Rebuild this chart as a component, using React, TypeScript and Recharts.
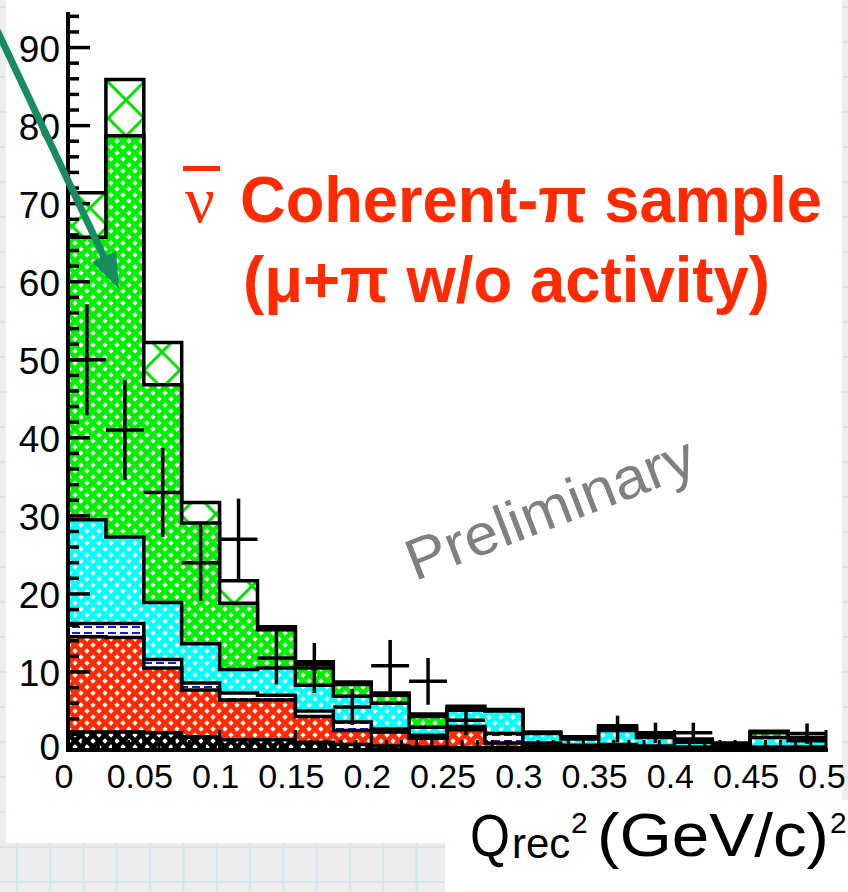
import React from 'react';
import { ComposedChart, Area, Scatter, ErrorBar, XAxis, YAxis } from 'recharts';

// Q^2_rec histogram, 20 bins of 0.025 (GeV/c)^2
const BIN_EDGES = [0, 0.025, 0.05, 0.075, 0.1, 0.125, 0.15, 0.175, 0.2, 0.225, 0.25, 0.275, 0.3, 0.325, 0.35, 0.375, 0.4, 0.425, 0.45, 0.475, 0.5];
const BIN_CENTERS = [0.0125, 0.0375, 0.0625, 0.0875, 0.1125, 0.1375, 0.1625, 0.1875, 0.2125, 0.2375, 0.2625, 0.2875, 0.3125, 0.3375, 0.3625, 0.3875, 0.4125, 0.4375, 0.4625, 0.4875];
const HALF_BIN = 0.0125;

// cumulative (stacked) tops of each MC component, read per bin
const BLACK_TOP = [2.3, 2.3, 2.2, 1.7, 1.3, 1.3, 1.0, 0.7, 0.5, 0.4, 0.3, 0.3, 0.2, 0.2, 0.2, 0.1, 0.1, 0.1, 0.1, 0.1];
const RED_TOP = [14.5, 14.4, 10.5, 7.7, 6.4, 6.4, 4.3, 2.5, 2.3, 1.5, 2.6, 0.9, 0.5, 0.3, 0.4, 0.3, 0.2, 0.1, 0.2, 0.2];
const BLUE_TOP = [16.2, 16.2, 11.6, 8.6, 7.3, 7.0, 5.0, 3.6, 2.7, 1.9, 3.0, 2.1, 0.9, 0.6, 0.7, 0.5, 0.4, 0.2, 0.4, 0.4];
const CYAN_TOP = [29.5, 27.3, 18.9, 13.6, 10.3, 10.5, 8.3, 6.9, 6.0, 2.9, 5.1, 5.0, 2.1, 1.4, 2.5, 1.6, 1.0, 0.6, 1.6, 1.2];
const GREEN_TOP = [65.7, 78.7, 46.8, 29.1, 18.8, 15.4, 11.0, 8.4, 7.0, 4.3, 5.3, 5.1, 2.2, 1.5, 2.9, 1.8, 1.2, 0.7, 2.2, 1.4];
const TOTAL = [71.4, 85.9, 52.2, 31.7, 21.7, 15.8, 11.3, 8.7, 7.3, 4.6, 5.6, 5.2, 2.3, 1.7, 3.1, 1.9, 1.4, 0.9, 2.4, 1.6];

// data points (null = empty bin)
const DATA_Y = [50, 41, 33, 24, 27, 11.8, 10.5, 5.5, 10.8, 8.8, 3.8, null, null, null, 2.7, 2.2, 2.2, null, null, 2.1];
const DATA_ERR = [7.1, 6.4, 5.7, 4.9, 5.2, 3.4, 3.2, 2.3, 3.3, 3.0, 1.9, 0, 0, 0, 1.7, 1.3, 1.3, 0, 0, 1.3];

const Y_TICKS = [0, 2, 4, 6, 8, 10, 12, 14, 16, 18, 20, 22, 24, 26, 28, 30, 32, 34, 36, 38, 40, 42, 44, 46, 48, 50, 52, 54, 56, 58, 60, 62, 64, 66, 68, 70, 72, 74, 76, 78, 80, 82, 84, 86, 88, 90, 92, 94];
const X_TICKS = [0, 0.01, 0.02, 0.03, 0.04, 0.05, 0.06, 0.07, 0.08, 0.09, 0.1, 0.11, 0.12, 0.13, 0.14, 0.15, 0.16, 0.17, 0.18, 0.19, 0.2, 0.21, 0.22, 0.23, 0.24, 0.25, 0.26, 0.27, 0.28, 0.29, 0.3, 0.31, 0.32, 0.33, 0.34, 0.35, 0.36, 0.37, 0.38, 0.39, 0.4, 0.41, 0.42, 0.43, 0.44, 0.45, 0.46, 0.47, 0.48, 0.49, 0.5];

const W = 848;
const H = 892;
const PL = 68;
const PR = 826;
const PT = 14;
const PB = 750;
const RED = '#ff2a00';
const SANS = '"Liberation Sans", Arial, Helvetica, sans-serif';

// drawn largest first so every outline stays on top (like ROOT stacks)
const layers = [
  { key: 'total', pat: 'pCross' },
  { key: 'green', pat: 'pGreen' },
  { key: 'cyan', pat: 'pCyan' },
  { key: 'blue', pat: 'pBlue' },
  { key: 'red', pat: 'pRed' },
  { key: 'black', pat: 'pBlack' },
];

const areaRows = BIN_EDGES.map((x, i) => {
  const b = Math.min(i, TOTAL.length - 1);
  return {
    x,
    total: TOTAL[b],
    green: GREEN_TOP[b],
    cyan: CYAN_TOP[b],
    blue: BLUE_TOP[b],
    red: RED_TOP[b],
    black: BLACK_TOP[b],
  };
});

const pointRows = BIN_CENTERS.map((x, i) =>
  DATA_Y[i] == null ? null : { x, y: DATA_Y[i], ey: DATA_ERR[i], ex: HALF_BIN }
).filter(Boolean);

const YTick = (props: any) => {
  const { y, payload } = props;
  const v = payload.value;
  const major = v % 10 === 0;
  return (
    <g>
      <line x1={PL} x2={PL + (major ? 22 : 11)} y1={y} y2={y} stroke="#000" strokeWidth={3.5} />
      {major && (
        <text x={PL - 8} y={v === 0 ? y - 3 : y + 2} textAnchor="end" dominantBaseline="central" fontSize={37} fontFamily={SANS} fill="#000">
          {v}
        </text>
      )}
    </g>
  );
};

const XTick = (props: any) => {
  const { x, payload } = props;
  const v = payload.value;
  const major = Math.abs(v * 20 - Math.round(v * 20)) < 1e-6;
  return (
    <g>
      <line x1={x} x2={x} y1={PB} y2={PB - (major ? 20 : 10)} stroke="#000" strokeWidth={3} />
      {major && (
        <text x={x - 4} y={788} textAnchor="middle" fontSize={34} fontFamily={SANS} fill="#000">
          {String(v)}
        </text>
      )}
    </g>
  );
};

const dotPath = 'M3 0.3 L5.7 3 L3 5.7 L0.3 3Z M9 6.3 L11.7 9 L9 11.7 L6.3 9Z';

const Patterns = () => (
  <svg width={0} height={0} style={{ position: 'absolute' }}>
    <defs>
      {[
        ['pGreen', '#00f000'],
        ['pCyan', '#00ffff'],
        ['pRed', '#ff2a00'],
      ].map(([id, c]) => (
        <pattern key={id} id={id} width={12} height={12} patternUnits="userSpaceOnUse">
          <rect width={12} height={12} fill={c} />
          <path d={dotPath} fill="#fff" />
        </pattern>
      ))}
      <pattern id="pBlack" width={12} height={12} patternUnits="userSpaceOnUse">
        <rect width={12} height={12} fill="#000" />
        <path d={dotPath} fill="#fff" />
      </pattern>
      <pattern id="pBlue" width={12} height={6} patternUnits="userSpaceOnUse">
        <rect width={12} height={6} fill="#fff" />
        <rect x={0} y={2} width={8} height={2} fill="#1818e0" />
      </pattern>
      <pattern id="pCross" width={36} height={36} y={10} patternUnits="userSpaceOnUse">
        <rect width={36} height={36} fill="#fff" />
        <path d="M0 0 L36 36 M36 0 L0 36" stroke="#00e600" strokeWidth={3} />
      </pattern>
    </defs>
  </svg>
);

export default function App() {
  return (
    <div
      style={{
        position: 'absolute',
        left: 0,
        top: 0,
        width: W,
        height: H,
        overflow: 'hidden',
        backgroundColor: '#ededed',
        backgroundImage:
          'linear-gradient(90deg, #d3e6ef 2px, transparent 2px), linear-gradient(180deg, #d3e6ef 2px, transparent 2px)',
        backgroundSize: '33.3px 35px',
        backgroundPosition: '16px 6px',
      }}
    >
      <div style={{ position: 'absolute', left: 6, top: 0, width: 836, height: 843, background: '#fff' }} />
      <div style={{ position: 'absolute', left: 445, top: 800, width: 403, height: 92, background: '#fff' }} />
      <Patterns />
      <div style={{ position: 'absolute', left: 0, top: 0 }}>
        <ComposedChart
          width={W}
          height={H}
          data={areaRows}
          margin={{ top: PT, right: W - PR, bottom: H - PB - 40, left: PL - 60 }}
        >
          <XAxis
            dataKey="x"
            type="number"
            domain={[0, 0.5]}
            allowDataOverflow
            ticks={X_TICKS}
            interval={0}
            height={40}
            tick={<XTick />}
            tickLine={false}
            axisLine={{ stroke: '#000', strokeWidth: 4, strokeLinecap: 'square' }}
          />
          <XAxis
            xAxisId="top"
            orientation="top"
            type="number"
            domain={[0, 0.5]}
            height={0}
            tick={false}
            tickLine={false}
            axisLine={{ stroke: '#000', strokeWidth: 4, strokeLinecap: 'square' }}
          />
          <YAxis
            type="number"
            domain={[0, 94.3]}
            allowDataOverflow
            ticks={Y_TICKS}
            interval={0}
            width={60}
            tick={<YTick />}
            tickLine={false}
            axisLine={{ stroke: '#000', strokeWidth: 4, strokeLinecap: 'square' }}
          />
          <YAxis
            yAxisId="r"
            orientation="right"
            type="number"
            domain={[0, 94.3]}
            width={0}
            tick={false}
            tickLine={false}
            axisLine={{ stroke: '#000', strokeWidth: 4, strokeLinecap: 'square' }}
          />
          {layers.map((l) => (
            <Area
              key={l.key}
              dataKey={l.key}
              type="stepAfter"
              baseValue={0}
              fill={`url(#${l.pat})`}
              fillOpacity={1}
              stroke="#000"
              strokeWidth={3.5}
              dot={false}
              activeDot={false}
              isAnimationActive={false}
            />
          ))}
          <Scatter data={pointRows} dataKey="y" shape={() => <g />} isAnimationActive={false}>
            <ErrorBar dataKey="ey" direction="y" width={0} stroke="#000" strokeWidth={3.5} isAnimationActive={false} />
            <ErrorBar dataKey="ex" direction="x" width={0} stroke="#000" strokeWidth={3.5} isAnimationActive={false} />
          </Scatter>
        </ComposedChart>
      </div>
      <svg width={W} height={H} style={{ position: 'absolute', left: 0, top: 0, pointerEvents: 'none' }}>
        {/* arrow */}
        <line x1={-4} y1={28} x2={104} y2={257} stroke="#178c5e" strokeWidth={7} />
        <polygon points="119,289 92,262 116,251" fill="#178c5e" />
        {/* title */}
        <rect x={183} y={166} width={37} height={5} fill={RED} />
        <text x={185} y={222} fontSize={66} fontFamily='"Liberation Serif", "Times New Roman", serif' fill={RED}>
          ν
        </text>
        <text x={240} y={222} fontSize={64} fontWeight="bold" fontFamily={SANS} fill={RED} textLength={582} lengthAdjust="spacingAndGlyphs">
          Coherent-π sample
        </text>
        <text x={243} y={302} fontSize={64} fontWeight="bold" fontFamily={SANS} fill={RED} textLength={527} lengthAdjust="spacingAndGlyphs">
          (μ+π w/o activity)
        </text>
        {/* watermark */}
        <g transform="translate(550,508) rotate(-21)">
          <text x={0} y={20} textAnchor="middle" fontSize={58} fontFamily={SANS} fill="#808080" textLength={305} lengthAdjust="spacingAndGlyphs">
            Preliminary
          </text>
        </g>
        {/* x-axis title */}
        <text x={470} y={856} fontSize={60} fontFamily={SANS} fill="#000" textLength={40} lengthAdjust="spacingAndGlyphs">Q</text>
        <text x={512} y={858} fontSize={42} fontFamily={SANS} fill="#000">rec</text>
        <text x={571} y={833} fontSize={30} fontFamily={SANS} fill="#000">2</text>
        <text x={597} y={856} fontSize={62} fontFamily={SANS} fill="#000" textLength={232} lengthAdjust="spacingAndGlyphs">
          (GeV/c)
        </text>
        <text x={830} y={833} fontSize={30} fontFamily={SANS} fill="#000">2</text>
      </svg>
    </div>
  );
}
